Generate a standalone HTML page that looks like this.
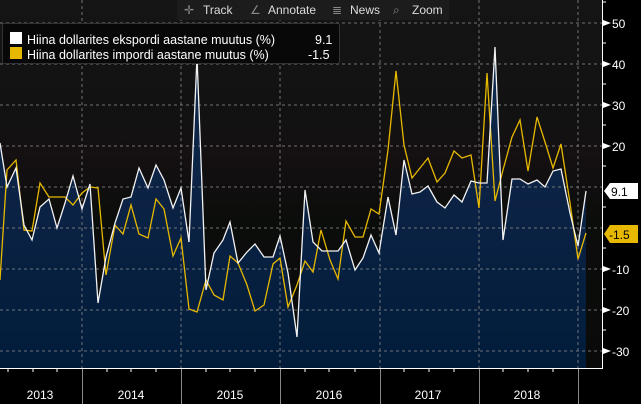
<!DOCTYPE html>
<html><head><meta charset="utf-8"><style>
body{margin:0;background:#000;}
svg{display:block;font-family:"Liberation Sans",sans-serif;}
</style></head><body>
<svg width="641" height="404" viewBox="0 0 641 404" xmlns="http://www.w3.org/2000/svg">
<defs>
<linearGradient id="bg" x1="0" y1="0" x2="0" y2="1">
<stop offset="0" stop-color="#151515"/><stop offset="0.3" stop-color="#121212"/><stop offset="0.42" stop-color="#151012"/><stop offset="0.6" stop-color="#0b0d0b"/><stop offset="1" stop-color="#0a0a0a"/>
</linearGradient>
<linearGradient id="fill" x1="0" y1="0" x2="0" y2="1">
<stop offset="0" stop-color="#0f2a4c"/><stop offset="0.5" stop-color="#0b2244"/><stop offset="1" stop-color="#011c3a"/>
</linearGradient>
</defs>
<rect x="0" y="0" width="602" height="369" fill="url(#bg)"/>
<polygon fill="url(#fill)" points="0,369 0,143 7,187 16,168 24,225 32,240 40,207 49,199 57,228 65,203 73,176 82,209 90,184 98,303 106,257 115,223 123,199 131,197 139,168 148,188 156,165 164,180 173,208 181,188 189,242 197,57 206,290 214,253 223,240 230,222 238,263 247,252 255,244 264,257 273,257 280,236 288,273 297,337 305,190 313,242 322,251 338,251 346,240 355,270 363,258 371,235 379,253 388,197 396,235 404,160 412,194 420,192 428,186 437,202 445,208 454,195 462,202 471,181 479,183 487,183 495,47 503,240 512,179 520,179 528,184 537,180 545,187 553,171 561,169 570,213 578,246 586,191 586,369"/>
<g stroke="#8a8a8a" stroke-width="1" stroke-dasharray="3,3" opacity="0.8">
<line x1="0" y1="23" x2="602" y2="23"/><line x1="0" y1="64" x2="602" y2="64"/><line x1="0" y1="105" x2="602" y2="105"/><line x1="0" y1="146" x2="602" y2="146"/><line x1="0" y1="187" x2="602" y2="187"/><line x1="0" y1="228" x2="602" y2="228"/><line x1="0" y1="269" x2="602" y2="269"/><line x1="0" y1="310" x2="602" y2="310"/><line x1="0" y1="351" x2="602" y2="351"/>
<line x1="82" y1="0" x2="82" y2="369"/><line x1="181" y1="0" x2="181" y2="369"/><line x1="280" y1="0" x2="280" y2="369"/><line x1="380" y1="0" x2="380" y2="369"/><line x1="479" y1="0" x2="479" y2="369"/><line x1="578" y1="0" x2="578" y2="369"/>
</g>
<polyline fill="none" stroke="#e6b800" stroke-width="1.3" points="0,280 7,170 16,160 24,230 32,231 40,183 49,197 65,197 73,205 82,193 90,187 98,188 106,275 115,225 123,234 131,205 139,234 148,238 156,199 164,209 173,256 181,238 189,309 197,312 206,280 214,295 223,300 230,256 238,263 247,285 255,311 264,305 273,264 280,258 288,307 297,285 305,261 313,272 321,230 330,260 338,279 346,221 355,237 363,237 371,209 379,214 388,150 396,71 404,145 412,178 420,168 428,158 437,182 445,173 454,151 462,158 471,155 479,208 487,73 495,201 503,170 512,137 520,120 528,171 537,117 545,142 553,168 561,144 570,203 578,259 586,233"/>
<polyline fill="none" stroke="#f2f2f2" stroke-width="1.3" points="0,143 7,187 16,168 24,225 32,240 40,207 49,199 57,228 65,203 73,176 82,209 90,184 98,303 106,257 115,223 123,199 131,197 139,168 148,188 156,165 164,180 173,208 181,188 189,242 197,57 206,290 214,253 223,240 230,222 238,263 247,252 255,244 264,257 273,257 280,236 288,273 297,337 305,190 313,242 322,251 338,251 346,240 355,270 363,258 371,235 379,253 388,197 396,235 404,160 412,194 420,192 428,186 437,202 445,208 454,195 462,202 471,181 479,183 487,183 495,47 503,240 512,179 520,179 528,184 537,180 545,187 553,171 561,169 570,213 578,246 586,191"/>
<!-- right axis -->
<rect x="603" y="0" width="38" height="404" fill="#000"/>
<line x1="602.5" y1="0" x2="602.5" y2="369" stroke="#fff"/>
<line x1="0" y1="368.5" x2="603" y2="368.5" stroke="#fff"/>
<rect x="0" y="369" width="603" height="35" fill="#000"/>
<g fill="#fff" font-size="12">
<polygon points="603,20 611,23 603,26"/><text x="612" y="28">50</text>
<polygon points="603,61 611,64 603,67"/><text x="612" y="69">40</text>
<polygon points="603,102 611,105 603,108"/><text x="612" y="110">30</text>
<polygon points="603,143 611,146 603,149"/><text x="612" y="151">20</text>
<polygon points="603,266 611,269 603,272"/><text x="612" y="274">-10</text>
<polygon points="603,307 611,310 603,313"/><text x="612" y="315">-20</text>
<polygon points="603,348 611,351 603,354"/><text x="612" y="356">-30</text>
</g>
<g stroke="#fff"><line x1="603" y1="2" x2="606" y2="2"/><line x1="603" y1="43" x2="606" y2="43"/><line x1="603" y1="84" x2="606" y2="84"/><line x1="603" y1="125" x2="606" y2="125"/><line x1="603" y1="166" x2="606" y2="166"/><line x1="603" y1="207" x2="606" y2="207"/><line x1="603" y1="248" x2="606" y2="248"/><line x1="603" y1="289" x2="606" y2="289"/><line x1="603" y1="330" x2="606" y2="330"/></g>
<g stroke="#fff"><line x1="8" y1="369" x2="8" y2="372"/><line x1="33" y1="369" x2="33" y2="372"/><line x1="57" y1="369" x2="57" y2="372"/><line x1="107" y1="369" x2="107" y2="372"/><line x1="131" y1="369" x2="131" y2="372"/><line x1="156" y1="369" x2="156" y2="372"/><line x1="206" y1="369" x2="206" y2="372"/><line x1="230" y1="369" x2="230" y2="372"/><line x1="255" y1="369" x2="255" y2="372"/><line x1="305" y1="369" x2="305" y2="372"/><line x1="329" y1="369" x2="329" y2="372"/><line x1="355" y1="369" x2="355" y2="372"/><line x1="404" y1="369" x2="404" y2="372"/><line x1="429" y1="369" x2="429" y2="372"/><line x1="454" y1="369" x2="454" y2="372"/><line x1="503" y1="369" x2="503" y2="372"/><line x1="528" y1="369" x2="528" y2="372"/><line x1="553" y1="369" x2="553" y2="372"/></g>
<polygon points="604,191 610,183 638,183 638,199 610,199" fill="#fff"/>
<text x="611" y="196" font-size="12" fill="#000">9.1</text>
<polygon points="604,234 610,225 638,225 638,243 610,243" fill="#e6b800"/>
<text x="609" y="239" font-size="12" fill="#000">-1.5</text>
<!-- bottom axis -->
<g stroke="#888"><line x1="82.5" y1="369" x2="82.5" y2="404"/><line x1="181.5" y1="369" x2="181.5" y2="404"/><line x1="280.5" y1="369" x2="280.5" y2="404"/><line x1="380.5" y1="369" x2="380.5" y2="404"/><line x1="479.5" y1="369" x2="479.5" y2="404"/><line x1="578.5" y1="369" x2="578.5" y2="404"/></g>
<g fill="#fff" font-size="12" text-anchor="middle">
<text x="40" y="399">2013</text><text x="131" y="399">2014</text><text x="230" y="399">2015</text><text x="329" y="399">2016</text><text x="428" y="399">2017</text><text x="527" y="399">2018</text>
</g>
<!-- toolbar -->
<rect x="177" y="0" width="272" height="20" fill="#1c1c1c"/>
<g fill="#dcdcdc" font-size="12">
<text x="203" y="14">Track</text><text x="268" y="14">Annotate</text><text x="350" y="14">News</text><text x="412" y="14">Zoom</text>
<text x="184" y="14" fill="#888">✛</text><text x="250" y="14" fill="#888">∠</text><text x="332" y="14" fill="#888">≣</text><text x="393" y="14" fill="#888">⌕</text>
</g>
<!-- legend -->
<rect x="2.5" y="23.5" width="337" height="40" rx="2" fill="#080808" stroke="#333"/>
<rect x="10" y="32" width="12" height="12" fill="#fff"/>
<rect x="10" y="47" width="12" height="12" fill="#e6b800"/>
<g fill="#fff" font-size="12.5">
<text x="27" y="44">Hiina dollarites ekspordi aastane muutus (%)</text><text x="315" y="44">9.1</text>
<text x="27" y="59">Hiina dollarites impordi aastane muutus (%)</text><text x="308" y="59">-1.5</text>
</g>
</svg>
</body></html>
